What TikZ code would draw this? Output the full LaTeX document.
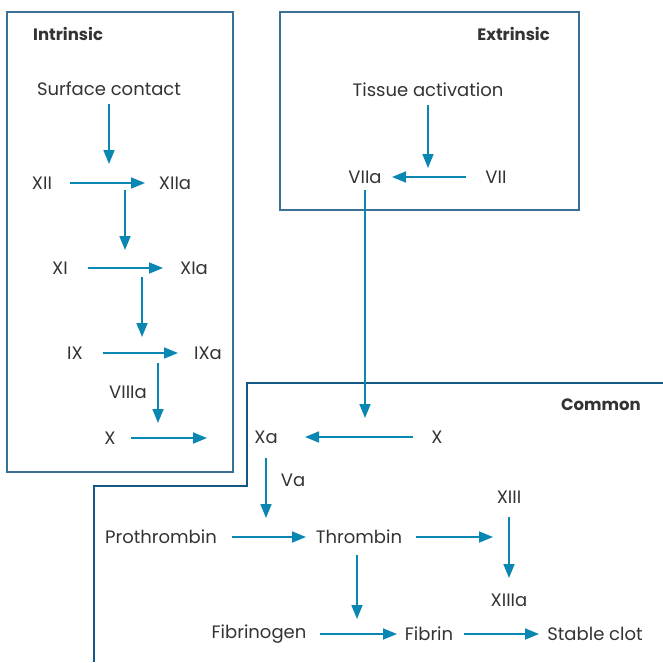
\documentclass[tikz,border=0pt]{standalone}
\usepackage{fontspec}
\setmainfont{Poppins}
\usetikzlibrary{arrows.meta}
\definecolor{arrblue}{HTML}{0A86B3}
\definecolor{boxblue}{HTML}{3A6F96}
\definecolor{navy}{HTML}{155883}
\definecolor{txt}{HTML}{333333}
\tikzset{
  lbl/.style={text=txt, font=\fontsize{18}{18}\selectfont, inner sep=0pt, anchor=center},
  head/.style={text=txt, font=\fontsize{16.5}{16.5}\selectfont\bfseries, inner sep=0pt},
  arr/.style={draw=arrblue, line width=1.7pt, -{Triangle[length=14pt,width=11pt]}},
  boxline/.style={draw=boxblue, line width=1.3pt},
}
\begin{document}
\begin{tikzpicture}[x=1pt,y=-1pt]
\useasboundingbox (0,0) rectangle (663,662);
% boxes
\draw[boxline] (7,12) rectangle (233,472);
\draw[boxline] (280,12) rectangle (579,210);
\draw[draw=navy, line width=2pt] (663,383) -- (247,383) -- (247,486) -- (94,486) -- (94,662);
% headings
\node[head, anchor=west] (hint) at (33,34) {Intrinsic};
\node[head, anchor=east] (hext) at (550,34) {Extrinsic};
\node[head, anchor=east] (hcom) at (641,405) {Common};
% intrinsic nodes
\node[lbl] (sc) at (109,89) {Surface contact};
\node[lbl] (xii) at (42,183) {XII};
\node[lbl] (xiia) at (175,183) {XIIa};
\node[lbl] (xi) at (60,268) {XI};
\node[lbl] (xia) at (194,268) {XIa};
\node[lbl] (ix) at (75,353) {IX};
\node[lbl] (ixa) at (208,353) {IXa};
\node[lbl] (viiia) at (128,392) {VIIIa};
\node[lbl] (x1) at (110,438) {X};
% extrinsic nodes
\node[lbl] (ta) at (428,90) {Tissue activation};
\node[lbl] (viia) at (365,177) {VIIa};
\node[lbl] (vii) at (496,177) {VII};
% common nodes
\node[lbl] (xa) at (266,437) {Xa};
\node[lbl] (x2) at (437,437) {X};
\node[lbl] (va) at (293,480) {Va};
\node[lbl] (pro) at (161,537) {Prothrombin};
\node[lbl] (thr) at (359,537) {Thrombin};
\node[lbl] (xiii) at (509,497) {XIII};
\node[lbl] (xiiia) at (509,600) {XIIIa};
\node[lbl] (fgn) at (259,634) {Fibrinogen};
\node[lbl] (fib) at (429,634) {Fibrin};
\node[lbl] (clot) at (595,634) {Stable clot};
% junction coordinates
\coordinate (j1) at (109,164);
\coordinate (s2) at (125,190);
\coordinate (j2) at (125,250);
\coordinate (s3) at (142,277);
\coordinate (j3) at (142,337);
\coordinate (s4) at (158,363);
\coordinate (j4) at (158,423);
\coordinate (x1end) at (207,438);
\coordinate (j5) at (428,168);
\coordinate (s6) at (365,190);
\coordinate (j6) at (365,418);
\coordinate (xaend) at (266,518);
\coordinate (xiiiend) at (493,537);
\coordinate (s7) at (357,555);
\coordinate (j7) at (357,619);
% arrows
\draw[arr, shorten <=15pt] (sc.center) -- (j1);
\draw[arr, shorten <=28pt, shorten >=30pt] (xii.center) -- (xiia.center);
\draw[arr] (s2) -- (j2);
\draw[arr, shorten <=28pt, shorten >=31pt] (xi.center) -- (xia.center);
\draw[arr] (s3) -- (j3);
\draw[arr, shorten <=28pt, shorten >=30pt] (ix.center) -- (ixa.center);
\draw[arr] (s4) -- (j4);
\draw[arr, shorten <=21pt] (x1.center) -- (x1end);
\draw[arr, shorten <=15pt] (ta.center) -- (j5);
\draw[arr, shorten <=30pt, shorten >=27pt] (vii.center) -- (viia.center);
\draw[arr] (s6) -- (j6);
\draw[arr, shorten <=24pt, shorten >=39pt] (x2.center) -- (xa.center);
\draw[arr, shorten <=21pt] (xa.center) -- (xaend);
\draw[arr, shorten <=71pt, shorten >=53pt] (pro.center) -- (thr.center);
\draw[arr, shorten <=57pt] (thr.center) -- (xiiiend);
\draw[arr, shorten <=20pt, shorten >=22pt] (xiii.center) -- (xiiia.center);
\draw[arr] (s7) -- (j7);
\draw[arr, shorten <=61pt, shorten >=32pt] (fgn.center) -- (fib.center);
\draw[arr, shorten <=35pt, shorten >=56pt] (fib.center) -- (clot.center);
\end{tikzpicture}
\end{document}
